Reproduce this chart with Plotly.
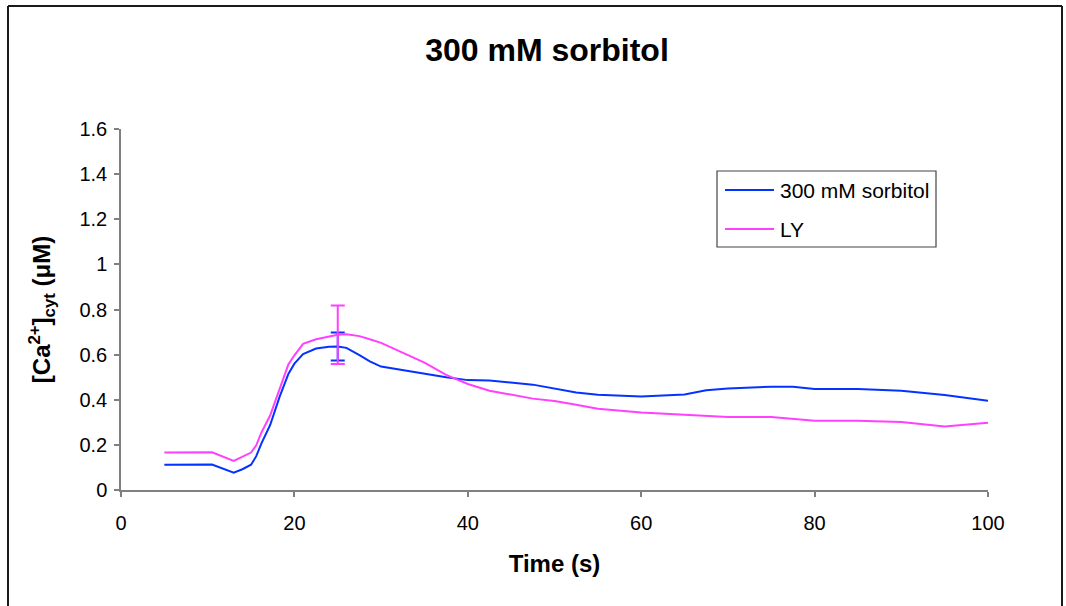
import plotly.graph_objects as go

# Sampling times (s)
time_s = [5, 10.5, 13, 14, 15, 15.6, 16.2, 17.2, 18.3, 19.3, 20, 21, 22.5, 24, 25,
          26, 27.5, 28.7, 30, 35, 37.5, 40, 42.5, 47.5, 50, 52.5, 55, 60, 65, 67.5,
          70, 75, 77.5, 80, 85, 90, 95, 100]

# Cytosolic Ca2+ (µM)
sorbitol_ca = [0.112, 0.113, 0.077, 0.092, 0.112, 0.150, 0.207, 0.288, 0.414, 0.514,
               0.560, 0.602, 0.627, 0.635, 0.636, 0.630, 0.598, 0.570, 0.547, 0.515,
               0.500, 0.487, 0.485, 0.467, 0.450, 0.432, 0.422, 0.414, 0.423, 0.442,
               0.450, 0.458, 0.458, 0.448, 0.448, 0.440, 0.421, 0.396]
ly_ca = [0.166, 0.167, 0.129, 0.148, 0.166, 0.198, 0.255, 0.330, 0.445, 0.556,
         0.597, 0.648, 0.668, 0.680, 0.688, 0.690, 0.682, 0.668, 0.652, 0.565,
         0.510, 0.470, 0.440, 0.405, 0.394, 0.378, 0.360, 0.343, 0.334, 0.329,
         0.324, 0.324, 0.316, 0.307, 0.307, 0.301, 0.281, 0.298]

# Error bars at the peak
err_time = [25]
sorbitol_err_y = [0.636]
sorbitol_err = [0.062]
ly_err_y = [0.688]
ly_err = [0.13]

series_names = ["300 mM sorbitol", "LY"]
x_ticks = [0, 20, 40, 60, 80, 100]
y_ticks = [0, 0.2, 0.4, 0.6, 0.8, 1, 1.2, 1.4, 1.6]
y_tick_labels = ["0", "0.2", "0.4", "0.6", "0.8", "1", "1.2", "1.4", "1.6"]

BLUE = "#0632FF"
PINK = "#FF40FF"
FONT = "Liberation Sans, Arial, sans-serif"

fig = go.Figure()
fig.add_trace(go.Scatter(x=time_s, y=sorbitol_ca, mode="lines", name=series_names[0],
                         line=dict(color=BLUE, width=2), showlegend=False))
fig.add_trace(go.Scatter(x=err_time, y=sorbitol_err_y, mode="markers",
                         marker=dict(size=1, opacity=0), showlegend=False,
                         error_y=dict(type="data", array=sorbitol_err, color=BLUE,
                                      thickness=2, width=7)))
fig.add_trace(go.Scatter(x=time_s, y=ly_ca, mode="lines", name=series_names[1],
                         line=dict(color=PINK, width=2), showlegend=False))
fig.add_trace(go.Scatter(x=err_time, y=ly_err_y, mode="markers",
                         marker=dict(size=1, opacity=0), showlegend=False,
                         error_y=dict(type="data", array=ly_err, color=PINK,
                                      thickness=2, width=7)))

# Plot area in pixels: x 121..988, y 129..490
L, R, T, B = 121, 988, 129, 490
W, H = 1066, 606


def px(x):
    return (x - L) / (R - L)


def py(y):
    return (B - y) / (B - T)


# Legend box drawn by hand
shapes = [
    dict(type="rect", xref="paper", yref="paper", x0=px(717), x1=px(936),
         y0=py(247), y1=py(171), line=dict(color="#444444", width=1.2),
         fillcolor="white", layer="above"),
]
annotations = []
for i, (name, col) in enumerate(zip(series_names, [BLUE, PINK])):
    yy = py(190 + 39 * i)
    shapes.append(dict(type="line", xref="paper", yref="paper", x0=px(725), x1=px(774),
                       y0=yy, y1=yy, line=dict(color=col, width=2), layer="above"))
    annotations.append(dict(text=name, xref="paper", yref="paper", x=px(778), y=yy,
                            xanchor="left", yanchor="middle", showarrow=False,
                            font=dict(family=FONT, size=21, color="black")))

# Outer frame
shapes.append(dict(type="line", xref="paper", yref="paper", x0=px(8), x1=px(8),
                   y0=py(6), y1=py(640), line=dict(color="#1a1a1a", width=2)))
shapes.append(dict(type="line", xref="paper", yref="paper", x0=px(8), x1=px(1062),
                   y0=py(6), y1=py(6), line=dict(color="#1a1a1a", width=2)))
shapes.append(dict(type="line", xref="paper", yref="paper", x0=px(1062), x1=px(1062),
                   y0=py(6), y1=py(640), line=dict(color="#1a1a1a", width=2)))

fig.update_layout(
    width=W, height=H,
    margin=dict(l=L, r=W - R, t=T, b=H - B, autoexpand=False),
    paper_bgcolor="white", plot_bgcolor="white",
    font=dict(family=FONT, color="black"),
    title=dict(text="<b>300 mM sorbitol</b>", x=547 / W, xanchor="center",
               y=1 - 50 / H, yanchor="middle",
               font=dict(family=FONT, size=32, color="black")),
    shapes=shapes, annotations=annotations, showlegend=False,
)
fig.update_xaxes(range=[0, 100], tickvals=x_ticks,
                 showgrid=False, zeroline=False, showline=True, linecolor="#808080",
                 linewidth=1.5, ticks="outside", ticklen=5, tickcolor="#808080",
                 tickwidth=1.5, ticklabelstandoff=9,
                 tickfont=dict(family=FONT, size=20, color="black"),
                 title=dict(text="<b>Time (s)</b>", standoff=22,
                            font=dict(family=FONT, size=24, color="black")))
fig.update_yaxes(range=[0, 1.6], tickvals=y_ticks, ticktext=y_tick_labels,
                 showgrid=False, zeroline=False, showline=True, linecolor="#808080",
                 linewidth=1.5, ticks="outside", ticklen=5, tickcolor="#808080",
                 tickwidth=1.5, ticklabelstandoff=3,
                 tickfont=dict(family=FONT, size=20, color="black"),
                 title=dict(text="<b>[Ca<sup>2+</sup>]<sub>cyt</sub> (μM)</b>", standoff=22,
                            font=dict(family=FONT, size=24, color="black")))

fig.write_html("out.html")
